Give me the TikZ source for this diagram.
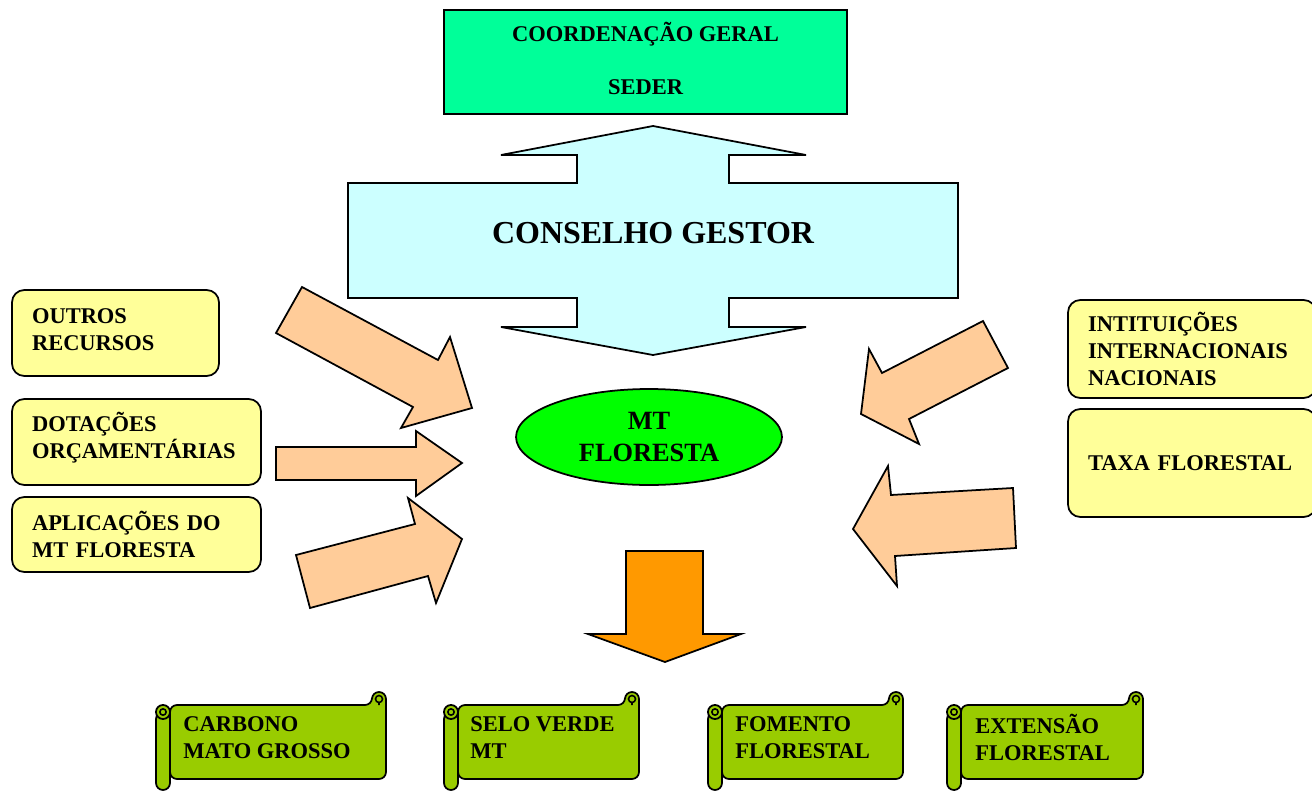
\documentclass[tikz,border=0pt]{standalone}
\usepackage{fontspec}
\setmainfont{Liberation Serif}
\definecolor{coordgreen}{RGB}{0,255,153}
\definecolor{conscyan}{RGB}{204,255,255}
\definecolor{mtgreen}{RGB}{0,255,0}
\definecolor{fundyellow}{RGB}{255,255,153}
\definecolor{peach}{RGB}{255,204,153}
\definecolor{deeporange}{RGB}{255,153,0}
\definecolor{scrollgreen}{RGB}{153,204,0}
\usetikzlibrary{shapes.geometric}

% horizontal scroll between x = #1 and x = #2
\newcommand{\scrollbanner}[2]{%
  \filldraw[banner, rounded corners=4pt] ({#1+14},705) -- ({#2-14},705) -- ({#2-14},692)
    -- (#2,692) -- (#2,779) -- ({#1+14},779) -- cycle;
  \draw[line width=0.9pt] ({#2-7},699) circle (2pt) ({#2-7},702.5) -- ({#2-7},705);
  \filldraw[banner, rounded corners=4pt] ({#1+14},712) -- ({#1+14},790) -- (#1,790) -- (#1,712) -- cycle;
  \filldraw[banner] ({#1+7},712) circle (4pt);
  \draw[line width=0.9pt] ({#1+7},712) circle (1.8pt);
}

\begin{document}
\begin{tikzpicture}[x=0.02cm, y=-0.02cm,
  txt/.style={font=\fontsize{12.8}{15.5}\bfseries\selectfont},
  fundbox/.style={txt, draw, line width=1pt, fill=fundyellow, rounded corners=7pt,
    inner xsep=0.4cm, align=left},
  blockarrow/.style={draw, line width=1pt, fill=peach, line join=miter},
  banner/.style={draw, line width=1pt, fill=scrollgreen},
  bannertxt/.style={txt, anchor=west, align=left, inner xsep=0pt},
]
\useasboundingbox (0,0) rectangle (1312,791);

% top
\node[draw, line width=1pt, fill=coordgreen, minimum width=8.06cm, minimum height=2.08cm]
  (coord) at (645.5,62) {};
\node[txt, align=center] (seder) at (645.5,58.5) {COORDENAÇÃO GERAL\\[15pt]SEDER};

\filldraw[line width=1pt, fill=conscyan] (653,126) -- (806,155) -- (729,155) -- (729,183)
  -- (958,183) -- (958,298) -- (729,298) -- (729,327) -- (806,327) -- (653,355)
  -- (501,327) -- (577,327) -- (577,298) -- (348,298) -- (348,183) -- (577,183)
  -- (577,155) -- (501,155) -- cycle;
\node[font=\fontsize{18.2}{21}\bfseries\selectfont] (gestor) at (653,233) {CONSELHO GESTOR};

% centre
\node[ellipse, draw, line width=1pt, fill=mtgreen, minimum width=5.32cm, minimum height=1.92cm,
  align=center, font=\fontsize{15}{18}\bfseries\selectfont] (mt) at (649,437) {MT\\FLORESTA};

% sources
\node[fundbox, text width=3.34cm, minimum height=1.72cm, text depth=19pt] (outros) at (115.5,333)
  {OUTROS\\RECURSOS};
\node[fundbox, text width=4.18cm, minimum height=1.72cm, text depth=23pt] (dotacoes) at (136.5,442)
  {DOTAÇÕES\\ORÇAMENTÁRIAS};
\node[fundbox, text width=4.18cm, minimum height=1.5cm] (aplicacoes) at (136.5,534.5)
  {APLICAÇÕES DO\\MT FLORESTA};
\node[fundbox, text width=4.16cm, minimum height=1.96cm] (instit) at (1192,349)
  {INTITUIÇÕES\\INTERNACIONAIS\\NACIONAIS};
\node[fundbox, text width=4.16cm, minimum height=2.16cm] (taxa) at (1192,463)
  {TAXA FLORESTAL};

% arrows into MT Floresta
\filldraw[blockarrow] (302,287) -- (438,360) -- (450,337) -- (472,408) -- (401,428) -- (413,407) -- (276,333) -- cycle;
\filldraw[blockarrow] (276,447) -- (416,447) -- (416,431) -- (462,463) -- (416,496) -- (416,480) -- (276,480) -- cycle;
\filldraw[blockarrow] (296,555) -- (415,524) -- (408,498) -- (462,539) -- (436,603) -- (428,576) -- (310,608) -- cycle;
\filldraw[blockarrow] (983,321) -- (882,373) -- (869,349) -- (861,414) -- (919,444) -- (909,419) -- (1008,368) -- cycle;
\filldraw[blockarrow] (1013,488) -- (891,495) -- (888,466) -- (853,529) -- (897,586) -- (895,556) -- (1016,548) -- cycle;

% outputs
\filldraw[blockarrow, fill=deeporange] (626,551) -- (703,551) -- (703,634) -- (741,634) -- (665,662)
  -- (588,634) -- (626,634) -- cycle;

\scrollbanner{156}{386}
\scrollbanner{444}{639}
\scrollbanner{708}{903}
\scrollbanner{947}{1143}
\node[bannertxt] (carbono) at (183,737.5) {CARBONO\\MATO GROSSO};
\node[bannertxt] (selo) at (470,737.5) {SELO VERDE\\MT};
\node[bannertxt] (fomento) at (735,737.5) {FOMENTO\\FLORESTAL};
\node[bannertxt] (extensao) at (975,737.5) {EXTENSÃO\\FLORESTAL};
\end{tikzpicture}
\end{document}
